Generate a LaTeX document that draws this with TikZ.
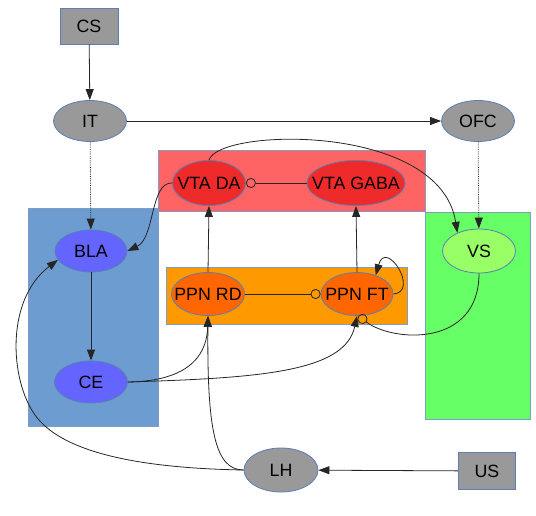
\documentclass[tikz,border=0pt]{standalone}
\usepackage{fontspec}
\setmainfont{Liberation Sans}
\usetikzlibrary{shapes.geometric,arrows.meta}
\definecolor{nodeedge}{HTML}{5A7FB5}
\definecolor{boxedge}{HTML}{7F9CC8}
\definecolor{grayfill}{HTML}{999999}
\definecolor{redbox}{HTML}{FF6464}
\definecolor{rednode}{HTML}{EE2A2A}
\definecolor{bluebox}{HTML}{6C9CD0}
\definecolor{bluenode}{HTML}{6464FF}
\definecolor{orangebox}{HTML}{FF9900}
\definecolor{orangenode}{HTML}{FF6600}
\definecolor{greenbox}{HTML}{66FF66}
\definecolor{greennode}{HTML}{99FF66}
\tikzset{
  lbl/.style={font=\fontsize{17.8}{19}\selectfont, inner sep=0pt},
  ell/.style={ellipse, draw=nodeedge, line width=0.8pt, inner sep=0pt,
    minimum width=73pt, minimum height=43pt, label={[lbl]center:#1}},
  sq/.style={rectangle, draw=nodeedge, line width=0.8pt, fill=grayfill, inner sep=0pt, font=\fontsize{17.8}{19}\selectfont},
  region/.style={draw=boxedge, line width=0.8pt},
  con/.style={line width=0.8pt, draw=black!85},
  arr/.style={con, -{Triangle[length=11pt,width=8pt]}},
  inh/.style={con, -{Circle[open,length=10pt,line width=0.8pt]}},
}
\begin{document}
\begin{tikzpicture}[x=1pt,y=-1pt]
\useasboundingbox (0,0) rectangle (536,515);
% regions
\draw[region, fill=redbox] (158,150) rectangle (425,211);
\draw[region, fill=bluebox] (28,208) rectangle (158,426);
\draw[region, fill=orangebox] (166,267) rectangle (407,324);
\draw[region, fill=greenbox] (425,212) rectangle (530,419);
% nodes
\node[sq, minimum width=58pt, minimum height=36pt] (cs) at (89,26) {CS};
\node[ell=IT, fill=grayfill, minimum height=41pt] (it) at (90,121) {};
\node[ell=OFC, fill=grayfill, minimum height=41pt] (ofc) at (478,121) {};
\node[ell=VTA DA, fill=rednode, minimum height=45pt] (vtada) at (209,183) {};
\node[ell=VTA GABA, fill=rednode, minimum width=98pt, minimum height=45pt] (vtagaba) at (356,183) {};
\node[ell=BLA, fill=bluenode, minimum width=72pt, minimum height=42pt] (bla) at (91,251) {};
\node[ell=CE, fill=bluenode, minimum height=42pt] (ce) at (91,382) {};
\node[ell=PPN RD, fill=orangenode] (pprd) at (208,294) {};
\node[ell=PPN FT, fill=orangenode, minimum width=72pt] (ppft) at (357,294) {};
\node[ell=VS, fill=greennode, minimum height=44pt] (vs) at (479,251) {};
\node[ell=LH, fill=grayfill, minimum width=74pt, minimum height=44pt] (lh) at (281,470) {};
\node[sq, minimum width=57pt, minimum height=37pt] (us) at (487,471) {US};
% connectors
\draw[arr] (cs) -- (it);
\draw[arr] (it) -- (ofc);
\draw[arr, densely dotted] (it) -- (bla);
\draw[arr, densely dotted] (ofc) -- (vs);
\draw[arr] (vtada.west) .. controls (150,182) and (155,238) .. (bla.east);
\draw[arr] (vtada.north) .. controls (218,128) and (440,122) .. (vs.140);
\draw[inh] (vtagaba.west) -- (vtada.east);
\draw[arr] (pprd.north) -- (vtada.south);
\draw[arr] (ppft.north) -- (vtagaba.south);
\draw[inh] (pprd.east) -- (ppft.west);
\draw[arr] (ppft.east) .. controls (420,292) and (386,238) .. (ppft.45);
\draw[inh] (vs.south) .. controls (479,348) and (392,342) .. (ppft.-86);
\draw[arr] (bla) -- (ce);
\draw[arr] (ce.east) .. controls (195,381) and (207,350) .. (pprd.south);
\draw[arr] (ce.east) .. controls (260,378) and (345,372) .. (ppft.south);
\draw[arr] (lh.west) .. controls (215,470) and (207,430) .. (pprd.south);
\draw[arr] (lh.west) .. controls (130,468) and (60,450) .. (35,415)
  .. controls (10,380) and (5,300) .. (bla.195);
\draw[arr] (us) -- (lh);
\end{tikzpicture}
\end{document}
